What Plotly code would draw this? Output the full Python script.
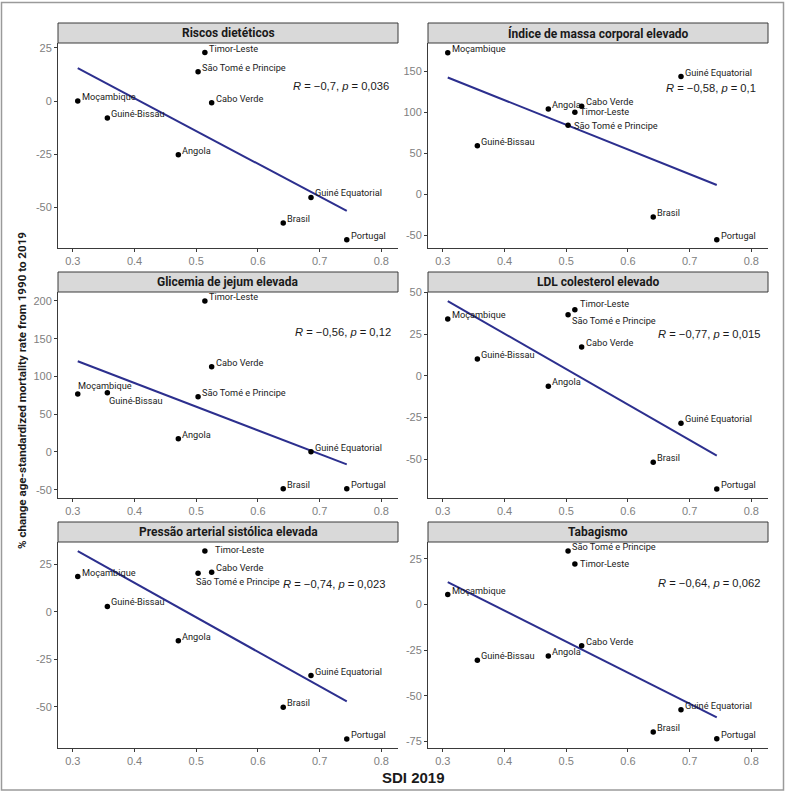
import numpy as np
import plotly.graph_objects as go

COUNTRIES = [
    "Moçambique", "Guiné-Bissau", "Angola", "São Tomé e Principe", "Timor-Leste",
    "Cabo Verde", "Brasil", "Guiné Equatorial", "Portugal",
]
SDI_2019 = [0.308, 0.356, 0.471, 0.503, 0.514, 0.525, 0.641, 0.686, 0.744]

PANEL_TITLES = [
    "Riscos dietéticos", "Índice de massa corporal elevado",
    "Glicemia de jejum elevada", "LDL colesterol elevado",
    "Pressão arterial sistólica elevada", "Tabagismo",
]
RISCOS_DIETETICOS = [0.0, -8.0, -25.2, 13.8, 22.8, -0.8, -57.3, -45.3, -65.2]
IMC_ELEVADO = [172.7, 59.1, 103.8, 84.0, 100.0, 107.4, -28.0, 143.5, -55.7]
GLICEMIA_ELEVADA = [76.8, 78.5, 17.6, 73.2, 200.0, 113.0, -48.7, 0.4, -48.7]
LDL_ELEVADO = [34.0, 10.1, -6.3, 36.6, 39.6, 17.3, -51.8, -28.4, -67.8]
PRESSAO_ELEVADA = [18.7, 2.9, -15.1, 20.4, 32.2, 21.0, -50.2, -33.5, -67.0]
TABAGISMO = [5.5, -30.5, -28.1, 29.4, 22.3, -22.5, -69.7, -57.5, -73.4]
PANEL_VALUES = [RISCOS_DIETETICOS, IMC_ELEVADO, GLICEMIA_ELEVADA,
                LDL_ELEVADO, PRESSAO_ELEVADA, TABAGISMO]

R_VALUES = ["−0,7", "−0,58", "−0,56", "−0,77", "−0,74", "−0,64"]
P_VALUES = ["0,036", "0,1", "0,12", "0,015", "0,023", "0,062"]

X_TICKS = [0.3, 0.4, 0.5, 0.6, 0.7, 0.8]
Y_TICKS = [
    [25, 0, -25, -50],
    [150, 100, 50, 0, -50],
    [200, 150, 100, 50, 0, -50],
    [50, 25, 0, -25, -50],
    [25, 0, -25, -50],
    [25, 0, -25, -50, -75],
]

# axis ranges and label placement (pixels)
Y_RANGES = [[-69.1, 27.3], [-65.8, 184.5], [-61.0, 211.9],
            [-73.2, 50.2], [-71.7, 36.9], [-78.5, 34.3]]
X_RANGE = [0.276, 0.827]
STAT_POS = [(0.978, 0.79), (0.97, 0.78), (0.985, 0.807),
            (0.981, 0.796), (0.968, 0.796), (0.981, 0.80)]
LABEL_NUDGE = {
    (1, "Timor-Leste"): (3, 1),
    (1, "São Tomé e Principe"): (4, 0),
    (2, "Moçambique"): (-2, 8),
    (2, "Guiné-Bissau"): (0, -8),
    (3, "São Tomé e Principe"): (2, -6),
    (3, "Timor-Leste"): (3, 6.5),
    (4, "Timor-Leste"): (8, 1),
    (4, "São Tomé e Principe"): (-4, -8),
    (5, "Timor-Leste"): (3, 0),
}

W, H = 785, 792
ML, MR, MT, MB = 58, 17, 23, 44
PW, PH = W - ML - MR, H - MT - MB
COLS_PX = [(58, 398), (428, 768)]
ROWS_PX = [(43, 248), (292, 498), (542, 748)]
STRIP_H = 20

NARROW = "Roboto, Liberation Sans, sans-serif"
REGULAR = "Liberation Sans, Arial, sans-serif"
AXIS_COLOR = "#3a3a3a"
LINE_COLOR = "#2c2f8e"


def px_x(px):
    return (px - ML) / PW


def px_y(py):
    return (H - MB - py) / PH


fig = go.Figure()
layout = {}
annotations = []
shapes = []

for i, values in enumerate(PANEL_VALUES):
    row, col = divmod(i, 2)
    n = i + 1
    xa = "x" if n == 1 else f"x{n}"
    ya = "y" if n == 1 else f"y{n}"
    x0, x1 = COLS_PX[col]
    top, bottom = ROWS_PX[row]

    slope, intercept = np.polyfit(SDI_2019, values, 1)
    fit_x = np.array([min(SDI_2019), max(SDI_2019)])
    fig.add_trace(go.Scatter(
        x=fit_x, y=slope * fit_x + intercept, mode="lines",
        line=dict(color=LINE_COLOR, width=2), xaxis=xa, yaxis=ya,
        showlegend=False, hoverinfo="skip",
    ))
    fig.add_trace(go.Scatter(
        x=SDI_2019, y=values, mode="markers", text=COUNTRIES,
        marker=dict(color="black", size=5.5), xaxis=xa, yaxis=ya,
        showlegend=False,
    ))

    axis_style = dict(
        showline=True, linecolor=AXIS_COLOR, linewidth=1, mirror=False,
        ticks="outside", ticklen=3, tickcolor=AXIS_COLOR, tickwidth=1,
        showgrid=False, zeroline=False,
        tickfont=dict(family=REGULAR, size=11, color="#808080"),
    )
    layout["xaxis" if n == 1 else f"xaxis{n}"] = dict(
        axis_style, domain=[px_x(x0), px_x(x1)], range=X_RANGE,
        tickvals=X_TICKS, ticktext=[f"{t:.1f}" for t in X_TICKS],
        anchor=ya,
    )
    layout["yaxis" if n == 1 else f"yaxis{n}"] = dict(
        axis_style, domain=[px_y(bottom), px_y(top)], range=Y_RANGES[i],
        tickvals=Y_TICKS[i], ticktext=[str(t) for t in Y_TICKS[i]],
        anchor=xa,
    )

    # facet strip
    strip_top = 1 + STRIP_H / (bottom - top)
    shapes.append(dict(
        type="rect", xref=f"{xa} domain", yref=f"{ya} domain",
        x0=0, x1=1, y0=1, y1=strip_top,
        fillcolor="#d9d9d9", line=dict(color=AXIS_COLOR, width=1),
    ))
    annotations.append(dict(
        text=f"<b>{PANEL_TITLES[i]}</b>", xref=f"{xa} domain", yref=f"{ya} domain",
        x=0.5, y=(1 + strip_top) / 2, xanchor="center", yanchor="middle",
        showarrow=False, font=dict(family=NARROW, size=12, color="#1a1a1a"),
    ))

    # correlation label
    sx, sy = STAT_POS[i]
    annotations.append(dict(
        text=f"<i>R</i> = {R_VALUES[i]}, <i>p</i> = {P_VALUES[i]}",
        xref=f"{xa} domain", yref=f"{ya} domain", x=sx, y=sy,
        xanchor="right", yanchor="middle", showarrow=False,
        font=dict(family=REGULAR, size=11.2, color="#1a1a1a"),
    ))

    # country labels
    for country, sdi, val in zip(COUNTRIES, SDI_2019, values):
        dx, dy = LABEL_NUDGE.get((i, country), (2, 4.5))
        annotations.append(dict(
            text=country, xref=xa, yref=ya, x=sdi, y=val,
            xanchor="left", yanchor="middle", xshift=dx, yshift=dy,
            showarrow=False, font=dict(family=NARROW, size=9.2, color="#1a1a1a"),
        ))

annotations.append(dict(
    text="<b>SDI 2019</b>", xref="paper", yref="paper",
    x=px_x(413), y=px_y(777), xanchor="center", yanchor="middle",
    showarrow=False, font=dict(family=REGULAR, size=15, color="#1a1a1a"),
))
annotations.append(dict(
    text="<b>% change age-standardized mortality rate from 1990 to 2019</b>",
    xref="paper", yref="paper", x=px_x(22), y=px_y(391), textangle=-90,
    xanchor="center", yanchor="middle", showarrow=False,
    font=dict(family=NARROW, size=11.6, color="#1a1a1a"),
))

# thin gray frame around the whole figure
shapes.append(dict(
    type="rect", xref="paper", yref="paper",
    x0=px_x(1.5), x1=px_x(783.5), y0=px_y(790), y1=px_y(2.5),
    line=dict(color="#9a9a9a", width=1.5),
))

fig.update_layout(
    **layout,
    width=W, height=H,
    margin=dict(l=ML, r=MR, t=MT, b=MB),
    paper_bgcolor="white", plot_bgcolor="white",
    annotations=annotations, shapes=shapes,
    showlegend=False,
)

# the page body has a default 8px margin; drop it so the figure fills the window
fig.write_html(
    "out.html",
    config={"displayModeBar": False},
    post_script="document.body.style.margin = '0';",
)
